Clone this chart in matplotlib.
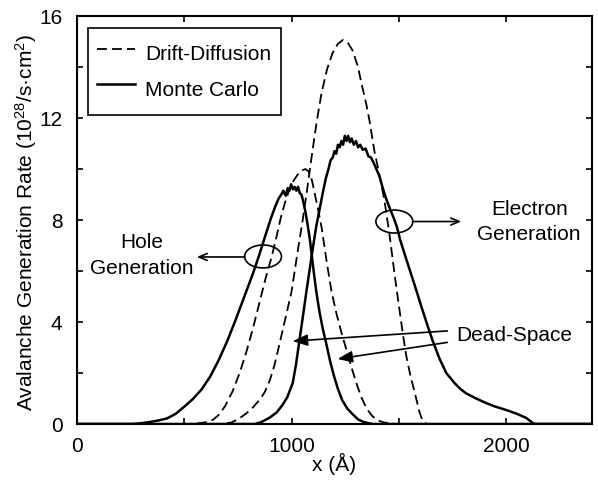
import numpy as np
import matplotlib
matplotlib.use('Agg')
from matplotlib import pyplot as plt
from matplotlib.patches import Ellipse

plt.rcParams['font.family'] = ['Liberation Sans', 'DejaVu Sans']
plt.rcParams['mathtext.fontset'] = 'custom'
plt.rcParams['mathtext.rm'] = 'Liberation Sans'
plt.rcParams['mathtext.it'] = 'Liberation Sans:italic'

# drift-diffusion, holes
x_dd_h = [0, 520, 560, 600, 633, 660, 690, 726, 760, 790, 820, 850, 880, 907,
          930, 950, 970, 990, 1010, 1030, 1050, 1065, 1080, 1095, 1110, 1125,
          1140, 1163, 1186, 1210, 1235, 1256, 1280, 1302, 1325, 1350, 1375,
          1400, 1430, 1460, 1490, 2400]
y_dd_h = [0, 0, 0.02, 0.07, 0.16, 0.35, 0.7, 1.3, 2.05, 2.85, 3.75, 4.75, 5.75, 6.55,
          7.35, 8.1, 8.7, 9.2, 9.55, 9.8, 9.95, 10.0, 9.9, 9.55, 8.95, 8.35,
          7.7, 6.4, 5.2, 4.3, 3.5, 2.9, 2.2, 1.6, 1.05, 0.6, 0.32,
          0.15, 0.06, 0.02, 0, 0]

# drift-diffusion, electrons
x_dd_e = [0, 680, 720, 744, 770, 791, 820, 851, 875, 898, 920, 944, 970, 1000,
          1028, 1050, 1070, 1093, 1116, 1140, 1165, 1191, 1215, 1239, 1262,
          1284, 1308, 1330, 1348, 1363, 1386, 1410, 1433, 1456, 1475, 1490,
          1505, 1520, 1535, 1555, 1572, 1585, 1595, 1605, 1618, 1630, 2400]
y_dd_e = [0, 0, 0.06, 0.16, 0.3, 0.43, 0.65, 0.95, 1.25, 1.7, 2.3, 3.15, 4.1, 5.2,
          6.75, 7.9, 9.05, 10.45, 11.8, 13.0, 13.9, 14.55, 14.9, 15.06, 14.95,
          14.65, 14.05, 13.2, 12.55, 11.9, 10.7, 9.75, 8.75, 7.45, 6.2, 5.25,
          4.35, 3.45, 2.65, 1.85, 1.3, 0.85, 0.5, 0.25, 0.08, 0, 0]

# Monte Carlo, holes
x_mc_h = [0, 260, 300, 340, 380, 420, 460, 500, 540, 580, 620, 660, 700, 740,
          780, 820, 850, 880, 905, 925, 940, 952, 962, 972, 982, 990, 998, 1006,
          1014, 1022, 1030, 1038, 1046, 1055, 1065, 1075, 1085, 1095, 1105,
          1115, 1130, 1145, 1163, 1180, 1197, 1215, 1235, 1260, 1285, 1310,
          1335, 1360, 1380, 2400]
y_mc_h = [0, 0, 0.03, 0.08, 0.14, 0.22, 0.4, 0.68, 0.98, 1.35, 1.85, 2.5, 3.25, 4.1,
          5.0, 5.9, 6.65, 7.45, 8.1, 8.55, 8.85, 9.0, 9.15, 8.95, 9.25, 9.15, 9.4, 9.2,
          9.3, 9.15, 9.3, 9.05, 9.0, 8.7, 8.3, 7.8, 7.25, 6.55, 5.85,
          5.2, 4.4, 3.75, 3.1, 2.45, 1.9, 1.4, 0.95, 0.6, 0.38, 0.18,
          0.08, 0.03, 0, 0]

# Monte Carlo, electrons
x_mc_e = [0, 830, 860, 898, 930, 958, 980, 1005, 1020, 1037, 1055, 1070, 1085,
          1100, 1115, 1130, 1145, 1160, 1172, 1182, 1192, 1200, 1208, 1216,
          1224, 1232, 1240, 1248, 1256, 1264, 1272, 1280, 1290, 1300, 1310,
          1320, 1332, 1345, 1358, 1370, 1382, 1395, 1410, 1425, 1440, 1458,
          1475, 1490, 1505, 1520, 1535, 1558, 1581, 1605, 1630, 1656, 1690,
          1721, 1760, 1790, 1814, 1860, 1907, 1950, 2000, 2050, 2093, 2112,
          2125, 2135, 2400]
y_mc_e = [0, 0, 0.08, 0.25, 0.45, 0.75, 1.05, 1.6, 2.3, 3.3, 4.35, 5.25, 6.1,
          6.95, 7.75, 8.4, 9.05, 9.65, 10.0, 10.35, 10.45, 10.7, 10.6, 10.95,
          10.85, 11.1, 10.95, 11.3, 11.1, 11.3, 11.05, 11.2, 10.95, 11.1, 10.85,
          10.95, 10.75, 10.8, 10.5, 10.45, 10.25, 10.0, 9.7, 9.25, 8.85, 8.45,
          8.1, 7.75, 7.25, 6.85, 6.45, 5.85, 5.25, 4.6, 3.95, 3.3, 2.55,
          2.0, 1.6, 1.35, 1.2, 1.0, 0.82, 0.68, 0.55, 0.4, 0.24, 0.12,
          0.03, 0, 0]

fig = plt.figure(figsize=(5.98, 4.8), dpi=100)
ax = fig.add_axes([77/598, 56/480, 515/598, 408/480])

dash = (0, (5.5, 2.8))
ax.plot(x_dd_h, y_dd_h, color='black', lw=1.3, ls=dash, label='Drift-Diffusion')
ax.plot(x_dd_e, y_dd_e, color='black', lw=1.3, ls=dash)
ax.plot(x_mc_h, y_mc_h, color='black', lw=1.8, label='Monte Carlo')
ax.plot(x_mc_e, y_mc_e, color='black', lw=1.8)

ax.set_xlim(0, 2400)
ax.set_ylim(0, 16)
ax.set_xticks([0, 1000, 2000])
ax.set_xticks([500, 1500], minor=True)
ax.set_yticks([0, 4, 8, 12, 16])
ax.set_yticks([2, 6, 10, 14], minor=True)
ax.tick_params(which='both', direction='in', top=True, right=True,
               length=4.5, width=1.2, labelsize=15)
ax.tick_params(axis='x', pad=9)
ax.tick_params(axis='y', pad=10.5)
for s in ax.spines.values():
    s.set_linewidth(1.5)

ax.set_xlabel('x (Å)', fontsize=15)
ax.set_ylabel(r'Avalanche Generation Rate (10$^{\mathregular{28}}$/s·cm$^{\mathregular{2}}$)',
              fontsize=15)
ax.xaxis.set_label_coords(0.5, -0.071)
ax.yaxis.set_label_coords(-0.073, 0.493)

leg = ax.legend(loc='upper left', bbox_to_anchor=(0.0214, 0.971), borderaxespad=0,
                fontsize=15, fancybox=False, edgecolor='black', framealpha=1,
                handlelength=1.8, handletextpad=0.5, borderpad=0.45,
                labelspacing=0.1, handleheight=2.08)
leg.get_frame().set_linewidth(1.2)

# hole generation label
ax.add_patch(Ellipse((867, 6.57), 172, 0.9, fill=False, ec='black', lw=1.2))
ax.annotate('', xy=(558, 6.55), xytext=(781, 6.55),
            arrowprops=dict(arrowstyle='->,head_length=0.6,head_width=0.25',
                            lw=1.2, color='black', shrinkA=0, shrinkB=0))
ax.text(302, 6.6, 'Hole\nGeneration', fontsize=15, ha='center', va='center',
        linespacing=1.45)

# electron generation label
ax.add_patch(Ellipse((1479, 7.94), 172, 0.9, fill=False, ec='black', lw=1.2))
ax.annotate('', xy=(1791, 7.94), xytext=(1563, 7.94),
            arrowprops=dict(arrowstyle='->,head_length=0.6,head_width=0.25',
                            lw=1.2, color='black', shrinkA=0, shrinkB=0))
ax.text(2107, 7.92, 'Electron\nGeneration', fontsize=15, ha='center', va='center',
        linespacing=1.45)

# dead-space arrows
ax.text(1767, 3.49, 'Dead-Space', fontsize=15, ha='left', va='center')
for tip, start in [((1005, 3.25), (1726, 3.65)), ((1214, 2.55), (1726, 3.2))]:
    ax.annotate('', xy=tip, xytext=start,
                arrowprops=dict(arrowstyle='-|>,head_length=0.9,head_width=0.35',
                                lw=1.2, color='black', shrinkA=0, shrinkB=0,
                                mutation_scale=10))

plt.savefig('out.png', dpi=100)
